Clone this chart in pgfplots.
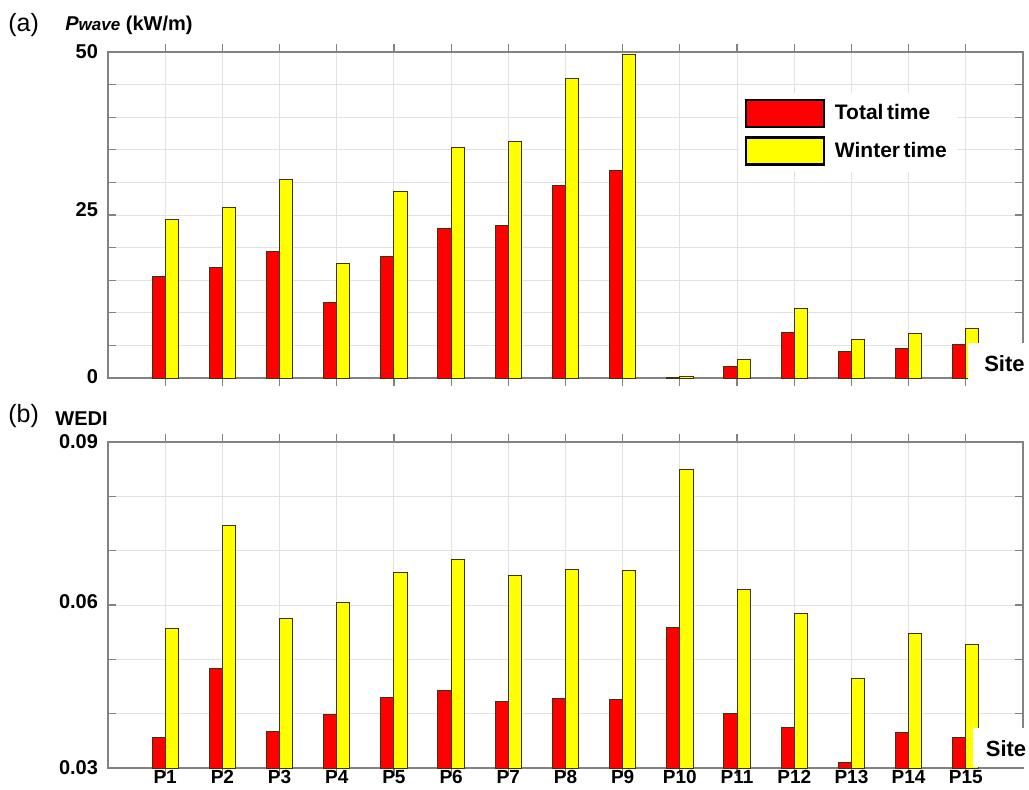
\documentclass[border=0pt]{standalone}
\usepackage{pgfplots}
\pgfplotsset{compat=1.18}
\usepackage{fontspec}
\setmainfont{Liberation Sans}

\definecolor{axgray}{RGB}{130,130,130}
\definecolor{gridgray}{RGB}{226,226,226}
\definecolor{barred}{RGB}{255,0,0}
\definecolor{baryellow}{RGB}{255,255,0}
\definecolor{baredge}{RGB}{60,50,20}

% Mean wave power (kW/m) per site
\pgfplotstableread{
x total winter
1  15.6 24.3
2  16.9 26.1
3  19.4 30.4
4  11.6 17.6
5  18.6 28.6
6  22.9 35.3
7  23.4 36.2
8  29.6 46.0
9  31.8 49.6
10 0.15 0.25
11 1.8  2.8
12 7.0  10.7
13 4.0  5.9
14 4.6  6.9
15 5.2  7.65
}\pwavedata

% Wave energy development index per site
\pgfplotstableread{
x total winter
1  0.0356 0.0557
2  0.0483 0.0746
3  0.0368 0.0576
4  0.0398 0.0605
5  0.0430 0.0659
6  0.0443 0.0683
7  0.0423 0.0655
8  0.0428 0.0666
9  0.0426 0.0663
10 0.0558 0.0850
11 0.0401 0.0628
12 0.0375 0.0585
13 0.0310 0.0464
14 0.0366 0.0548
15 0.0356 0.0528
}\wedidata

\pgfplotsset{
  panel/.style={
    scale only axis, width=457.5pt, height=163pt,
    xmin=0, xmax=16, xtick={1,...,15},
    axis line style={axgray, line width=0.8pt},
    grid=major, major grid style={gridgray, line width=0.5pt},
    tick align=inside, xtick pos=both, ytick pos=both,
    major tick length=4pt, tick style={axgray, line width=0.6pt},
    ybar=0pt, bar width=0.23,
    scaled y ticks=false,
    ticklabel style={font=\fontsize{10}{12}\selectfont\bfseries},
    yticklabel style={xshift=-1.5pt},
  },
  redbar/.style={fill=barred, draw=baredge, line width=0.5pt},
  yelbar/.style={fill=baryellow, draw=baredge, line width=0.5pt},
}

\begin{document}
\begin{tikzpicture}
\useasboundingbox (0,0) rectangle (514.5pt,-394.5pt);

\begin{axis}[panel, name=top,
  at={(54pt,-189pt)}, anchor=south west,
  ymin=0, ymax=50, ytick={0,5,...,50},
  yticklabels={\raisebox{1.5pt}{0},,,,,\raisebox{5pt}{25},,,,,\raisebox{-3pt}{50}},
  xticklabels={},
  legend style={at={(rel axis cs:0.689,0.875)}, anchor=north west,
    draw=none, fill=white, inner xsep=3pt, inner ysep=3pt,
    row sep=4pt,
    font=\fontsize{10.5}{12}\selectfont\bfseries},
  legend cell align=left,
  legend image code/.code={%
    \draw[#1, draw=black, line width=1.1pt] (0pt,-6.75pt) rectangle (39pt,6.75pt);
    \path[draw=none, fill=none] (0pt,0pt) -- (42.5pt,0pt);},
]
\addplot[redbar] table[x=x, y=total] {\pwavedata};
\addplot[yelbar] table[x=x, y=winter] {\pwavedata};
\legend{Total\,time, Winter\,time}
\end{axis}

\begin{axis}[panel, name=bot,
  at={(54pt,-384pt)}, anchor=south west,
  ymin=0.03, ymax=0.09, ytick={0.03,0.04,...,0.091},
  yticklabels={\raisebox{0.5pt}{0.03},,,\raisebox{4pt}{0.06},,,\raisebox{-5pt}{0.09}},
  xticklabels={P1,P2,P3,P4,P5,P6,P7,P8,P9,P10,P11,P12,P13,P14,P15},
  xticklabel style={anchor=north, inner sep=0pt, yshift=3pt,
    font=\fontsize{9.5}{11}\selectfont\bfseries},
]
\addplot[redbar] table[x=x, y=total] {\wedidata};
\addplot[yelbar] table[x=x, y=winter] {\wedidata};
\end{axis}

% axis name labels
\node[anchor=base west, inner sep=0pt, font=\fontsize{12.5}{14}\selectfont] at (4pt,-15.8pt) {(a)};
\node[anchor=base west, inner sep=0pt, font=\fontsize{10}{12}\selectfont\bfseries] at (32.5pt,-15.3pt)
  {\itshape P{\fontsize{8.5}{10}\selectfont wave}\upshape{} (kW/m)};
\node[anchor=base west, inner sep=0pt, font=\fontsize{12.5}{14}\selectfont] at (4pt,-211pt) {(b)};
\node[anchor=base west, inner sep=0pt, font=\fontsize{10}{12}\selectfont\bfseries] at (27.5pt,-212.5pt) {WEDI};

% site labels at the lower right corners
\fill[white] (484pt,-171.5pt) rectangle (514.5pt,-190pt);
\node[anchor=base east, inner sep=0pt, font=\fontsize{11}{13}\selectfont\bfseries]
  at (512.5pt,-185.9pt) {Site};
\fill[white] (486.5pt,-364pt) rectangle (514.5pt,-383.5pt);
\node[anchor=base east, inner sep=0pt, font=\fontsize{11}{13}\selectfont\bfseries]
  at (513.3pt,-378.3pt) {Site};
\end{tikzpicture}
\end{document}
